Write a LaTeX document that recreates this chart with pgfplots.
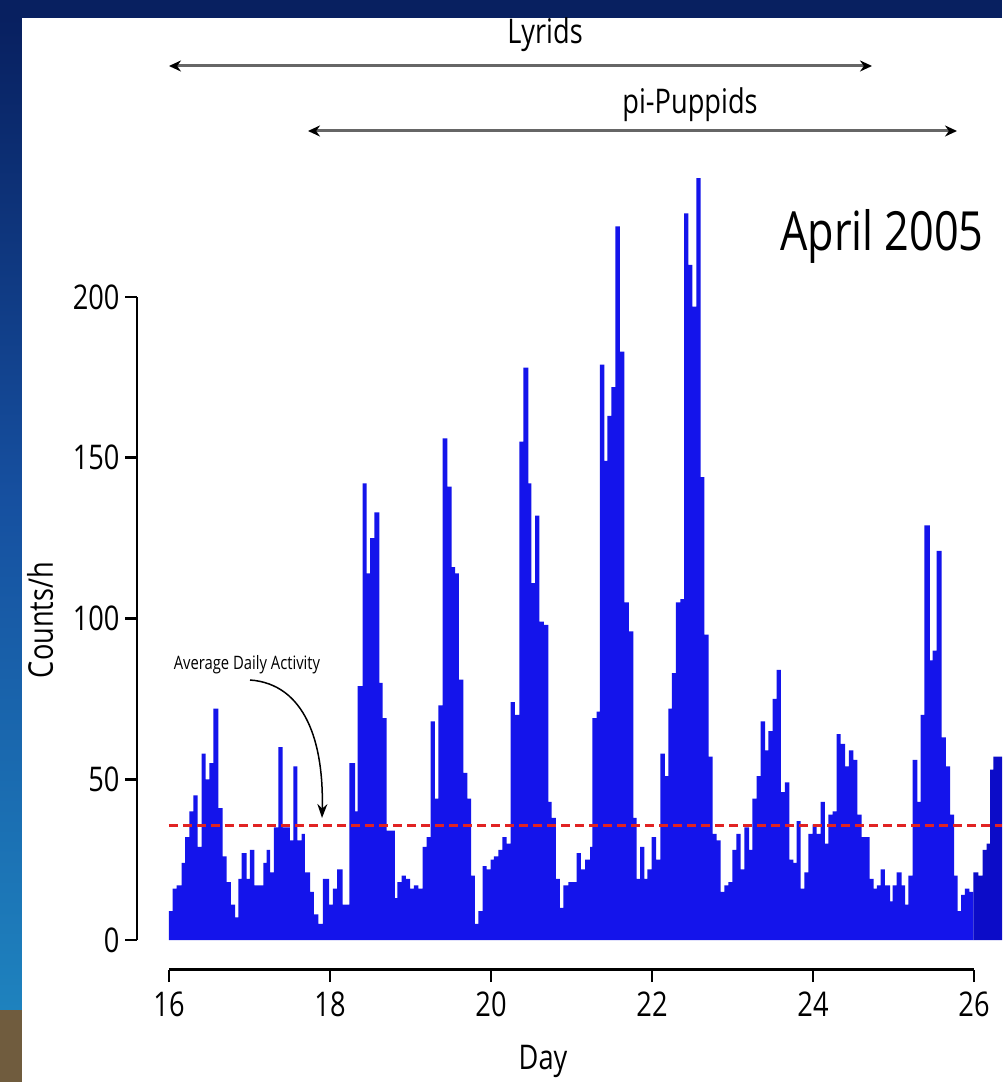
\documentclass[border=0pt]{standalone}
\usepackage{pgfplots}
\pgfplotsset{compat=1.18}
\usepackage{fontspec}
\setmainfont{Open Sans}[FakeStretch=0.8]
\usetikzlibrary{arrows.meta}

\definecolor{barblue}{RGB}{20,20,235}
\definecolor{bardark}{RGB}{12,12,200}
\definecolor{avgred}{RGB}{225,35,35}
\definecolor{slidenavy}{RGB}{8,32,96}
\definecolor{slidemid}{RGB}{22,80,160}
\definecolor{slidelow}{RGB}{30,130,190}
\definecolor{slidebrown}{RGB}{112,92,62}

\begin{document}
\begin{tikzpicture}
% slide frame
\begin{scope}[x=1pt,y=1pt]
\fill[slidenavy] (0,0) rectangle (1002,1082);
\shade[top color=slidenavy, bottom color=slidemid] (0,582) rectangle (22,1064);
\shade[top color=slidemid, bottom color=slidelow] (0,72) rectangle (22,582);
\fill[slidebrown] (0,0) rectangle (22,72);
\fill[white] (22,0) rectangle (1002,1064);
\end{scope}

\begin{axis}[
  at={(137pt,112pt)}, anchor=south west,
  scale only axis, width=865pt, height=801.6pt,
  xmin=15.6025, xmax=26.348, ymin=-9.33, ymax=240,
  clip=false,
  axis x line*=bottom, axis y line*=left,
  axis line style={draw=none},
  tick align=outside,
  major tick length=12pt,
  tick style={black, line width=2.5pt},
  xtick={16,18,20,22,24,26},
  ytick={0,50,100,150,200},
  /pgf/number format/assume math mode=true,
  ticklabel style={font=\fontsize{34}{40}\selectfont},
  xticklabel style={yshift=-6pt},
  yticklabel style={xshift=-2pt},
]
% hourly counts
\addplot[fill=barblue, draw=none, const plot mark left] coordinates {
(16.000,0) (16.000,9) (16.046,16) (16.096,17) (16.158,24) (16.199,32) (16.252,40)
(16.302,45) (16.357,29) (16.406,58) (16.456,50) (16.501,55) (16.550,72) (16.612,41)
(16.667,26) (16.717,18) (16.770,11) (16.820,7) (16.861,19) (16.903,27) (16.965,19)
(17.006,28) (17.060,17) (17.171,24) (17.214,28) (17.255,21) (17.304,35) (17.358,60)
(17.412,35) (17.503,31) (17.544,54) (17.594,31) (17.648,33) (17.689,21) (17.752,15)
(17.801,8) (17.855,5) (17.913,19) (17.988,11) (18.037,16) (18.087,22) (18.158,11)
(18.240,55) (18.311,40) (18.344,79) (18.406,142) (18.456,114) (18.497,125) (18.550,133)
(18.612,80) (18.655,69) (18.704,34) (18.807,13) (18.836,18) (18.891,20) (18.944,19)
(18.994,16) (19.043,17) (19.097,16) (19.152,29) (19.201,32) (19.251,68) (19.304,44)
(19.345,73) (19.400,156) (19.457,141) (19.512,116) (19.553,114) (19.602,81) (19.656,52)
(19.706,44) (19.752,20) (19.801,5) (19.842,9) (19.897,23) (19.947,22) (19.996,25)
(20.037,26) (20.091,28) (20.140,32) (20.195,30) (20.245,74) (20.298,70) (20.352,155)
(20.401,178) (20.463,142) (20.501,111) (20.547,132) (20.600,99) (20.658,98) (20.712,43)
(20.754,38) (20.807,19) (20.857,10) (20.898,17) (20.960,18) (21.022,18) (21.065,27)
(21.118,22) (21.168,25) (21.230,29) (21.258,69) (21.313,71) (21.354,179) (21.407,149)
(21.445,163) (21.494,172) (21.544,222) (21.602,183) (21.656,105) (21.714,96) (21.768,38)
(21.810,19) (21.851,29) (21.904,19) (21.942,22) (21.996,32) (22.050,25) (22.103,58)
(22.161,51) (22.203,72) (22.248,83) (22.298,105) (22.352,106) (22.398,226) (22.451,210)
(22.503,197) (22.550,237) (22.605,144) (22.652,95) (22.702,57) (22.754,33) (22.804,31)
(22.853,15) (22.898,17) (22.948,18) (22.998,28) (23.047,33) (23.102,22) (23.147,35)
(23.205,28) (23.246,44) (23.301,51) (23.350,68) (23.404,59) (23.445,65) (23.499,75)
(23.549,84) (23.602,46) (23.652,49) (23.706,25) (23.755,24) (23.798,37) (23.847,16)
(23.892,21) (23.942,33) (23.996,36) (24.046,33) (24.096,43) (24.149,30) (24.190,39)
(24.245,40) (24.294,64) (24.344,61) (24.398,54) (24.447,59) (24.501,56) (24.550,39)
(24.605,32) (24.702,19) (24.752,16) (24.795,17) (24.841,22) (24.894,17) (24.957,12)
(24.990,17) (25.040,21) (25.102,17) (25.143,11) (25.184,20) (25.239,56) (25.296,43)
(25.338,70) (25.383,129) (25.453,87) (25.487,90) (25.537,121) (25.599,63) (25.652,54)
(25.702,39) (25.752,20) (25.798,9) (25.839,14) (25.888,16) (25.942,15) (25.991,0)};
\addplot[fill=bardark, draw=none, const plot mark left] coordinates {
(25.991,0) (25.991,21) (26.053,20) (26.108,28) (26.158,30) (26.199,53) (26.240,57)
(26.289,57) (26.348,0)};
% average daily activity
\addplot[avgred, line width=3pt, dash pattern=on 9pt off 5pt] coordinates {(16,35.5) (26.348,35.5)};
% offset axis lines
\draw[line width=3pt] (axis cs:16,-9.33) -- (axis cs:26,-9.33);
\draw[line width=2.5pt] (axis cs:15.6025,0) -- (axis cs:15.6025,200);
\end{axis}

\begin{scope}[x=1pt,y=1pt]
% axis titles
\node[font=\fontsize{34}{40}\selectfont] at (543,21) {Day};
\node[font=\fontsize{34}{40}\selectfont, rotate=90] at (40,462) {Counts/h};
% shower ranges
\node[font=\fontsize{34}{40}\selectfont] at (545,1047) {Lyrids};
\draw[gray!80!black, line width=3pt, {Stealth[length=12pt,width=11pt,black]}-{Stealth[length=12pt,width=11pt,black]}] (169,1016) -- (872,1016);
\node[font=\fontsize{34}{40}\selectfont] at (690,977) {pi-Puppids};
\draw[gray!80!black, line width=3pt, {Stealth[length=12pt,width=11pt,black]}-{Stealth[length=12pt,width=11pt,black]}] (308,951) -- (957,951);
\node[font=\fontsize{54}{60}\selectfont] at (882,846) {April 2005};
% annotation
\node[font=\fontsize{18.5}{22}\selectfont] at (247,417) {Average Daily Activity};
\draw[line width=1.5pt, -{Stealth[length=14pt,width=10pt]}] (250,402) .. controls (305,398) and (324,340) .. (322,264);
\end{scope}
\end{tikzpicture}
\end{document}
